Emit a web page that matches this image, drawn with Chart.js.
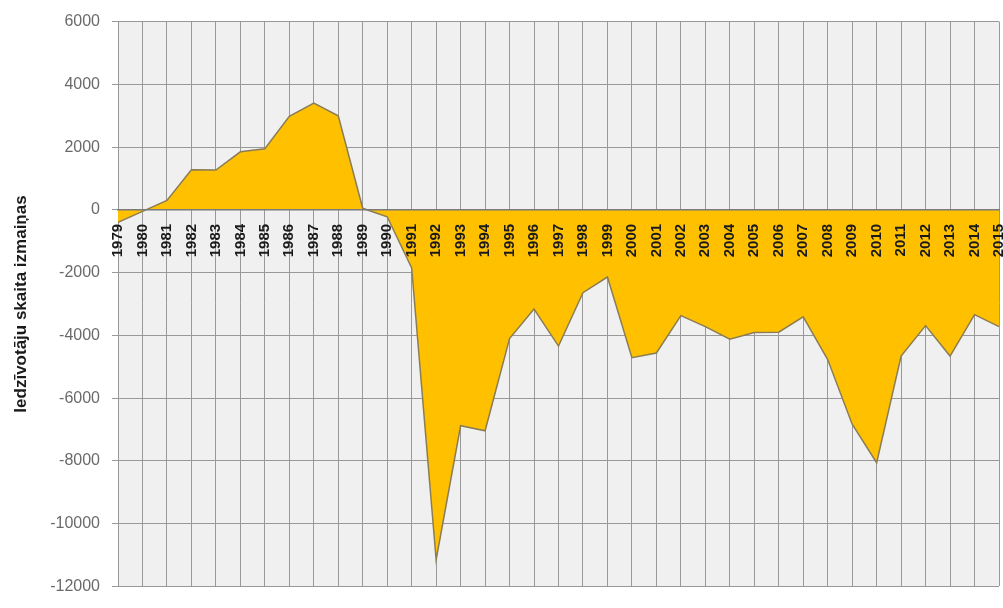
<!DOCTYPE html>
<html>
<head>
<meta charset="utf-8">
<script src="https://cdn.jsdelivr.net/npm/chart.js@4"></script>
<style>
  html, body { margin: 0; padding: 0; background: #fff; }
  #wrap { width: 1003px; height: 608px; }
</style>
</head>
<body>
<div id="wrap"><canvas id="chart"></canvas></div>
<script>
// years on the x axis
const years = [
  '1979', '1980', '1981', '1982', '1983', '1984', '1985', '1986', '1987', '1988',
  '1989', '1990', '1991', '1992', '1993', '1994', '1995', '1996', '1997', '1998',
  '1999', '2000', '2001', '2002', '2003', '2004', '2005', '2006', '2007', '2008',
  '2009', '2010', '2011', '2012', '2013', '2014', '2015'
];

// population change per year
const populationChange = [
  -400, -50, 300, 1280, 1270, 1850, 1950, 2980, 3400, 3000,
  50, -220, -1850, -11150, -6880, -7040, -4100, -3160, -4340, -2640,
  -2140, -4710, -4560, -3370, -3720, -4120, -3910, -3900, -3410, -4770,
  -6830, -8060, -4660, -3690, -4660, -3340, -3720
];

const yTicks = { min: -12000, max: 6000, step: 2000 };
const yTitle = 'Iedzīvotāju skaita izmaiņas';

const fontFamily = 'Arial, "Liberation Sans", sans-serif';

// grey plot background behind the grid
const plotBackground = {
  id: 'plotBackground',
  beforeDraw(chart) {
    const { ctx, chartArea } = chart;
    ctx.save();
    ctx.fillStyle = '#f0f0f0';
    ctx.fillRect(chartArea.left, chartArea.top, chartArea.width, chartArea.height);
    ctx.restore();
  }
};

// no extra side padding for rotated labels
const noSidePadding = (scale) => {
  scale.paddingLeft = 0;
  scale.paddingRight = 0;
};

const ctx = document.getElementById('chart').getContext('2d');

new Chart(ctx, {
  type: 'line',
  data: {
    labels: years,
    datasets: [{
      data: populationChange,
      xAxisID: 'x',
      fill: 'origin',
      backgroundColor: '#ffc000',
      borderColor: '#8a7d55',
      borderWidth: 1.5,
      pointRadius: 0,
      tension: 0
    }]
  },
  options: {
    responsive: true,
    maintainAspectRatio: false,
    animation: false,
    layout: { padding: { top: 19, right: 4, bottom: 8, left: 0 } },
    plugins: {
      legend: { display: false },
      tooltip: { enabled: false }
    },
    scales: {
      // grid only, under the area
      x: {
        position: 'bottom',
        offset: false,
        afterFit: (scale) => { noSidePadding(scale); scale.height = 0; },
        grid: {
          color: '#999999',
          lineWidth: 1,
          drawTicks: false
        },
        border: { display: false },
        ticks: { display: false }
      },
      // year labels along the zero line, drawn over the area
      x2: {
        type: 'category',
        position: { y: 0 },
        offset: false,
        afterFit: noSidePadding,
        grid: { display: false, drawTicks: false },
        border: { color: '#7a7a7a', width: 1.5, z: 1 },
        ticks: {
          z: 1,
          autoSkip: false,
          minRotation: 90,
          maxRotation: 90,
          padding: 14,
          color: '#1a1a1a',
          font: { family: fontFamily, size: 15, weight: 'bold' }
        }
      },
      y: {
        min: yTicks.min,
        max: yTicks.max,
        afterFit: (scale) => { scale.width = 118; },
        grid: {
          color: '#999999',
          lineWidth: 1,
          tickLength: 6
        },
        border: { color: '#999999' },
        ticks: {
          stepSize: yTicks.step,
          padding: 12,
          color: '#6a6a6a',
          font: { family: fontFamily, size: 16 },
          callback: (value) => String(value)
        },
        title: {
          display: true,
          text: yTitle,
          color: '#1a1a1a',
          padding: { top: 11, bottom: 0 },
          font: { family: fontFamily, size: 17, weight: 'bold' }
        }
      }
    }
  },
  plugins: [plotBackground]
});
</script>
</body>
</html>
